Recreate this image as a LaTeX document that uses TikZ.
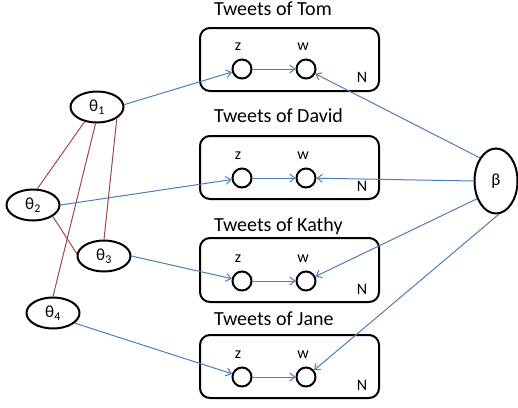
\documentclass[tikz,border=0pt]{standalone}
\usepackage{fontspec}
\setmainfont{Carlito}
\usetikzlibrary{shapes.geometric,arrows.meta}
\definecolor{linkblue}{RGB}{74,126,187}
\definecolor{linkred}{RGB}{160,72,70}
\tikzset{
  platebox/.style={draw=black,line width=2pt,rounded corners=10pt},
  varnode/.style={draw=black,line width=2pt,circle,minimum size=19pt,inner sep=0pt},
  thetanode/.style={draw=black,line width=2pt,ellipse,minimum width=53pt,minimum height=31pt,inner sep=0pt,font=\fontsize{17}{20}\selectfont},
  betanode/.style={draw=black,line width=2pt,ellipse,minimum width=43pt,minimum height=65pt,inner sep=0pt,font=\fontsize{17}{20}\selectfont},
  titletext/.style={anchor=base west,inner sep=0pt,font=\fontsize{20}{24}\selectfont},
  vartext/.style={inner sep=0pt,font=\fontsize{16}{19}\selectfont},
  ntext/.style={inner sep=0pt,font=\fontsize{16}{19}\selectfont},
  bluearrow/.style={draw=linkblue,line width=1pt,-{Straight Barb[length=5pt,width=8pt]}},
  redline/.style={draw=linkred,line width=1pt},
}
\begin{document}
\begin{tikzpicture}[x=1pt,y=-1pt]
\useasboundingbox (0,0) rectangle (518,407);
% plates
\node[titletext] (tt1) at (214,15) {Tweets of Tom};
\node[titletext] (tt2) at (214,122) {Tweets of David};
\node[titletext] (tt3) at (214,231) {Tweets of Kathy};
\node[titletext] (tt4) at (214,325) {Tweets of Jane};
\draw[platebox] (200,28) rectangle (379,91);
\draw[platebox] (200,136) rectangle (379,199);
\draw[platebox] (200,238) rectangle (379,302);
\draw[platebox] (200,335) rectangle (379,398);
% variables
\foreach \i/\y in {1/69,2/178,3/281,4/377}{
  \node[varnode] (z\i) at (242,\y) {};
  \node[varnode] (w\i) at (306,\y) {};
  \node[vartext] (zl\i) at (238,\y-22) {z};
  \node[vartext] (wl\i) at (303,\y-22) {w};
  \node[ntext] (n\i) at (362,\y+8) {N};
}
% thetas and beta
\node[thetanode] (t1) at (97,107) {θ\textsubscript{1}};
\node[thetanode] (t2) at (33,205) {θ\textsubscript{2}};
\node[thetanode] (t3) at (104,256) {θ\textsubscript{3}};
\node[thetanode] (t4) at (53,313) {θ\textsubscript{4}};
\node[betanode] (b) at (496,181) {β};
% red links
\draw[redline] (t1.-130) -- (t2.75);
\draw[redline] (t1.-95) -- (t4.north);
\draw[redline] (t1.-30) -- (t3.north);
\draw[redline] (t2.-30) -- (t3.175);
% blue arrows
\draw[bluearrow] (t1.5) -- (z1);
\draw[bluearrow] (t2.east) -- (z2);
\draw[bluearrow] (t3.east) -- (z3);
\draw[bluearrow] (t4.-25) -- (z4);
\foreach \i in {1,2,3,4}{\draw[bluearrow] (z\i) -- (w\i);}
\draw[bluearrow] (b.125) -- (w1);
\draw[bluearrow] (b.west) -- (w2);
\draw[bluearrow] (b.223) -- (w3);
\draw[bluearrow] (b.-85) -- (w4);
\end{tikzpicture}
\end{document}
